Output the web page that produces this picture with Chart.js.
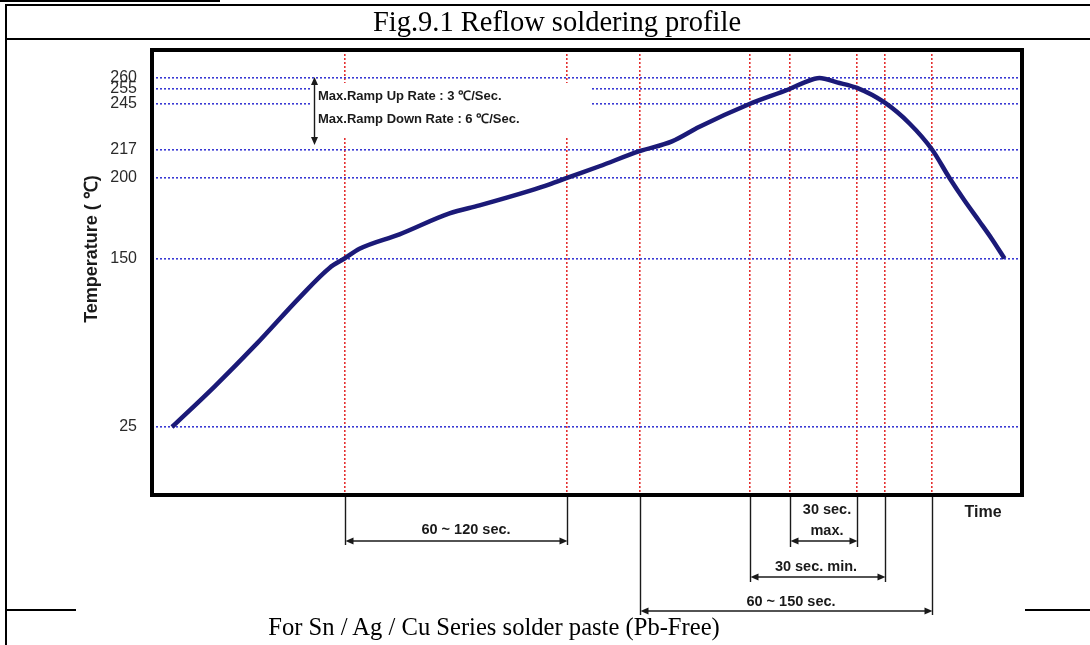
<!DOCTYPE html>
<html>
<head>
<meta charset="utf-8">
<script src="https://cdn.jsdelivr.net/npm/chart.js@4.4.1/dist/chart.umd.min.js"></script>
<style>
html,body{margin:0;padding:0;background:#fff;width:1090px;height:645px;overflow:hidden;}
#wrap{position:relative;width:1090px;height:645px;background:#fff;}
#c{position:absolute;left:0;top:0;}
.rule{position:absolute;background:#000;}
.serif{position:absolute;font-family:"Liberation Serif","Times New Roman",serif;color:#000;white-space:nowrap;line-height:1;}
</style>
</head>
<body>
<div id="wrap">
<canvas id="c" width="1090" height="645"></canvas>
<div class="rule" style="left:0;top:0;width:220px;height:2px"></div>
<div class="rule" style="left:5px;top:4px;width:1085px;height:2px"></div>
<div class="rule" style="left:5px;top:4px;width:2px;height:641px"></div>
<div class="rule" style="left:5px;top:38px;width:1085px;height:2px"></div>
<div class="rule" style="left:5px;top:609px;width:71px;height:2px"></div>
<div class="rule" style="left:1025px;top:609px;width:65px;height:2px"></div>
<div class="serif" style="left:557px;top:8px;font-size:28.5px;transform:translateX(-50%)">Fig.9.1 Reflow soldering profile</div>
<div class="serif" style="left:494px;top:615px;font-size:24.6px;transform:translateX(-50%)">For Sn / Ag / Cu Series solder paste (Pb-Free)</div>
</div>
<script>
// ---- data ----
const timeSec = [8, 25, 42, 59, 71, 77, 83, 99, 119, 131, 151, 159, 166, 179, 195, 208, 219, 239, 255, 261, 267, 274, 282, 293, 303, 312, 319, 325, 331, 336, 341];
const temperatureC = [25, 55, 87, 121, 143, 150, 156, 165, 178, 183, 192, 196, 200, 207, 216, 222, 231, 245, 255, 258, 260, 258, 255.5, 246, 233, 217, 200, 186, 173, 162, 150];
const yTickValues = [25, 150, 200, 217, 245, 255, 260];
const zoneBoundariesSec = [77, 166, 195, 239, 255, 282, 293, 312];
const rampNotes = ['Max.Ramp Up Rate : 3 \u2103/Sec.', 'Max.Ramp Down Rate : 6 \u2103/Sec.'];
const spanLabels = ['60 ~ 120 sec.', '30 sec.', 'max.', '30 sec. min.', '60 ~ 150 sec.'];
const axisTitleY = 'Temperature ( \u2103)';
const axisTitleX = 'Time';

// ---- non-uniform temperature axis (as in the original figure) ----
const Y_MIN = -25, Y_MAX = 277;
const yAnchors = [[-25, 0], [25, 0.1528], [150, 0.5315], [200, 0.7124], [217, 0.7764], [245, 0.8787], [255, 0.9124], [260, 0.9371], [277, 1]];
class SegmentedScale extends Chart.LinearScale {
  getPixelForValue(v) {
    const a = yAnchors;
    let f;
    if (v <= a[0][0]) f = a[0][1] + (v - a[0][0]) * (a[1][1] - a[0][1]) / (a[1][0] - a[0][0]);
    else {
      f = a[a.length - 1][1];
      for (let i = 0; i < a.length - 1; i++) {
        if (v <= a[i + 1][0]) { f = a[i][1] + (v - a[i][0]) * (a[i + 1][1] - a[i][1]) / (a[i + 1][0] - a[i][0]); break; }
      }
    }
    return this.getPixelForDecimal(f);
  }
  getValueForPixel(p) {
    const f = this.getDecimalForPixel(p);
    const a = yAnchors;
    for (let i = 0; i < a.length - 1; i++) {
      if (f <= a[i + 1][1]) return a[i][0] + (f - a[i][1]) * (a[i + 1][0] - a[i][0]) / (a[i + 1][1] - a[i][1]);
    }
    return a[a.length - 1][0];
  }
}
SegmentedScale.id = 'segmented';
SegmentedScale.defaults = { ticks: { callback: (v) => String(v) } };
Chart.register(SegmentedScale);

const FONT = '"Liberation Sans", Arial, sans-serif';

function head(ctx, x, y, dir) {
  const L = 8, W = 3.5;
  ctx.beginPath();
  ctx.moveTo(x, y);
  if (dir === 'left') { ctx.lineTo(x + L, y - W); ctx.lineTo(x + L, y + W); }
  if (dir === 'right') { ctx.lineTo(x - L, y - W); ctx.lineTo(x - L, y + W); }
  if (dir === 'up') { ctx.lineTo(x - W, y + L); ctx.lineTo(x + W, y + L); }
  if (dir === 'down') { ctx.lineTo(x - W, y - L); ctx.lineTo(x + W, y - L); }
  ctx.closePath();
  ctx.fill();
}
function hArrow(ctx, x1, x2, y) {
  ctx.beginPath(); ctx.moveTo(x1 + 4, y); ctx.lineTo(x2 - 4, y); ctx.stroke();
  head(ctx, x1, y, 'left'); head(ctx, x2, y, 'right');
}
function vLine(ctx, x, y1, y2) {
  ctx.beginPath(); ctx.moveTo(x, y1); ctx.lineTo(x, y2); ctx.stroke();
}

const overlay = {
  id: 'overlay',
  beforeDatasetsDraw(chart) {
    const ctx = chart.ctx;
    ctx.save();
    ctx.fillStyle = '#fff';
    ctx.fillRect(311, 83, 281, 54);
    ctx.restore();
  },
  afterDraw(chart) {
    const ctx = chart.ctx;
    const a = chart.chartArea;
    const xs = chart.scales.x;
    const px = zoneBoundariesSec.map(v => Math.round(xs.getPixelForValue(v)) + 0.5);
    ctx.save();
    // plot frame
    ctx.strokeStyle = '#000';
    ctx.lineWidth = 4;
    ctx.strokeRect(a.left, a.top, a.right - a.left, a.bottom - a.top);

    ctx.fillStyle = '#1a1a1a';
    ctx.strokeStyle = '#1a1a1a';
    ctx.lineWidth = 1.4;

    // ramp-rate note with double arrow
    vLine(ctx, 314.5, 81, 141);
    head(ctx, 314.5, 77, 'up'); head(ctx, 314.5, 145, 'down');
    ctx.font = 'bold 13px ' + FONT;
    ctx.textBaseline = 'middle';
    ctx.textAlign = 'left';
    ctx.fillText(rampNotes[0], 318, 96);
    ctx.fillText(rampNotes[1], 318, 119);

    // duration brackets below the plot
    const b = a.bottom + 2;
    vLine(ctx, px[0], b, 545); vLine(ctx, px[1], b, 545);
    hArrow(ctx, px[0], px[1], 541);
    vLine(ctx, px[4], b, 547); vLine(ctx, px[5], b, 547);
    hArrow(ctx, px[4], px[5], 541);
    vLine(ctx, px[3], b, 582); vLine(ctx, px[6], b, 582);
    hArrow(ctx, px[3], px[6], 577);
    vLine(ctx, px[2], b, 615); vLine(ctx, px[7], b, 615);
    hArrow(ctx, px[2], px[7], 611);

    ctx.font = 'bold 14.5px ' + FONT;
    ctx.textAlign = 'center';
    ctx.fillText(spanLabels[0], 466, 530);
    ctx.fillText(spanLabels[1], 827, 510);
    ctx.fillText(spanLabels[2], 827, 531);
    ctx.fillText(spanLabels[3], 816, 567);
    ctx.fillText(spanLabels[4], 791, 602);

    // axis titles
    ctx.font = 'bold 16px ' + FONT;
    ctx.fillText(axisTitleX, 983, 513);
    ctx.translate(92, 249);
    ctx.rotate(-Math.PI / 2);
    ctx.font = 'bold 18px ' + FONT;
    ctx.fillText(axisTitleY, 0, 0);
    ctx.restore();
  }
};

new Chart(document.getElementById('c'), {
  type: 'line',
  data: {
    datasets: [{
      data: timeSec.map((t, i) => ({ x: t, y: temperatureC[i] })),
      borderColor: '#1b1a78',
      borderWidth: 4.5,
      pointRadius: 0,
      cubicInterpolationMode: 'monotone',
      fill: false
    }]
  },
  options: {
    responsive: false,
    animation: false,
    devicePixelRatio: 1,
    layout: { padding: { left: 0, top: 50, right: 68, bottom: 150 } },
    plugins: { legend: { display: false }, tooltip: { enabled: false } },
    scales: {
      x: {
        type: 'linear',
        min: 0,
        max: 348,
        afterBuildTicks: (s) => { s.ticks = zoneBoundariesSec.map(v => ({ value: v })); },
        afterFit: (s) => { s.height = 0; },
        ticks: { display: false },
        grid: { color: '#e43030', lineWidth: 1.6, drawTicks: false },
        border: { display: false, dash: [2, 2] }
      },
      y: {
        type: 'segmented',
        min: Y_MIN,
        max: Y_MAX,
        afterBuildTicks: (s) => { s.ticks = yTickValues.map(v => ({ value: v })); },
        afterFit: (s) => { s.width = 152; },
        ticks: {
          autoSkip: false,
          padding: 15,
          color: '#2a2a2a',
          font: { family: FONT, size: 16 },
          callback: (v) => String(v)
        },
        grid: { color: '#3a3ad4', lineWidth: 1.6, drawTicks: false },
        border: { display: false, dash: [2, 2] }
      }
    }
  },
  plugins: [overlay]
});
</script>
</body>
</html>
